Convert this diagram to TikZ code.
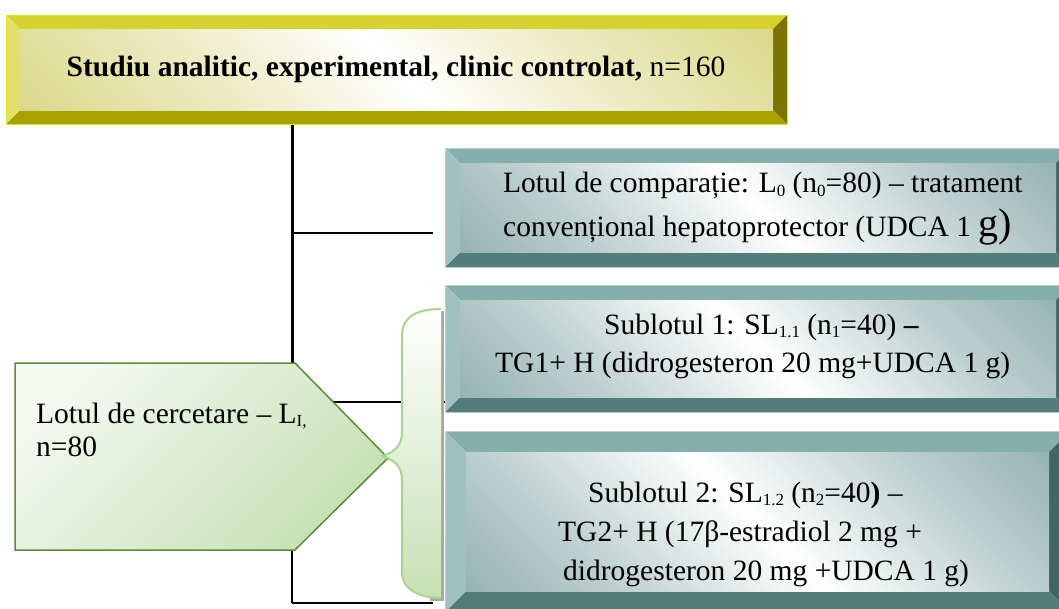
\documentclass[tikz,border=0pt]{standalone}
\usepackage{fontspec}
\setmainfont{Liberation Serif}
\usetikzlibrary{positioning}

\definecolor{yelTop}{HTML}{D6D232}
\definecolor{yelLeft}{HTML}{E2DF6B}
\definecolor{yelRight}{HTML}{7A7400}
\definecolor{yelBot}{HTML}{A8A200}
\definecolor{yelFace}{HTML}{CFCB62}
\definecolor{yelEdge}{HTML}{E4E21A}
\definecolor{tealTop}{HTML}{86AEAD}
\definecolor{tealLeft}{HTML}{A1C1C0}
\definecolor{tealRight}{HTML}{406664}
\definecolor{tealBot}{HTML}{537D7B}
\definecolor{tealFace}{HTML}{6F9896}
\definecolor{tealEdge}{HTML}{B4CFCE}
\definecolor{grnLine}{HTML}{5B8C3C}
\definecolor{grnLight}{HTML}{C6E0B4}
\definecolor{grnPale}{HTML}{F4F8F1}
\definecolor{braceLine}{HTML}{A9D48F}
\definecolor{braceShadow}{HTML}{A3AB9C}
\colorlet{faceC}{yelFace}

\pgfdeclareverticalshading[faceC]{bevelface}{100bp}{%
  color(0bp)=(faceC); color(30bp)=(faceC!45!white); color(50bp)=(white);
  color(70bp)=(faceC!45!white); color(100bp)=(faceC)}

\newcommand\sbs[1]{\raisebox{-0.12em}{\fontsize{17}{17}\selectfont #1}}

% x1, y1, x2, y2, bevel, colour prefix
\newcommand\bevelbox[6]{%
  \fill[#6Top] (#1,#2) -- (#3,#2) -- (#3-#5,#2+#5) -- (#1+#5,#2+#5) -- cycle;
  \fill[#6Bot] (#1,#4) -- (#3,#4) -- (#3-#5,#4-#5) -- (#1+#5,#4-#5) -- cycle;
  \fill[#6Left] (#1,#2) -- (#1+#5,#2+#5) -- (#1+#5,#4-#5) -- (#1,#4) -- cycle;
  \fill[#6Right] (#3,#2) -- (#3-#5,#2+#5) -- (#3-#5,#4-#5) -- (#3,#4) -- cycle;
  \colorlet{faceC}{#6Face}%
  \shade[shading=bevelface, shading angle=-45]
    (#1+#5,#2+#5) rectangle (#3-#5,#4-#5);
  \draw[#6Edge, line width=0.8pt] (#1,#2) rectangle (#3,#4);
}

\begin{document}
\begin{tikzpicture}[x=1pt, y=-1pt,
  conn/.style={draw=black, line width=2pt},
  trunk/.style={conn, line width=3pt},
  txt/.style={font=\fontsize{29.5}{38}\selectfont, inner sep=0pt, align=left}]
\useasboundingbox (0,0) rectangle (1059,608);
\clip (0,0) rectangle (1059,608);

\def\tx{292}

\coordinate (t0) at (\tx,124);
\coordinate (t3) at (\tx,603);
\coordinate (b1) at (433,233);
\coordinate (b2) at (445,402);
\coordinate (b3) at (433,603);

\draw[trunk] (t0) -- (t0 |- b2);
\draw[conn] (t0 |- b2) -- (t3);
\draw[conn] (t0 |- b1) -- (b1);
\draw[conn] (t0 |- b2) -- (b2);
\draw[conn] (t3) -- (b3);

\bevelbox{6}{15}{787}{124}{14}{yel}
\bevelbox{445}{148}{1071}{267}{15}{teal}
\bevelbox{445}{285}{1071}{412}{15}{teal}
\bevelbox{445}{431}{1070}{612}{21}{teal}

\shade[top color=grnPale, bottom color=grnLight, shading angle=45, draw=grnLine, line width=1.5pt]
  (15,363) -- (295,363) -- (388,458) -- (295,550) -- (15,550) -- cycle;

\fill[braceShadow] (444,311) -- (444,601) -- (430,601) -- (430,311) -- cycle;
\shade[top color=white, bottom color=grnLight]
  (441,309) .. controls (418,309) and (402,316) .. (402,336) -- (402,432)
  .. controls (402,446) and (394,452) .. (383,456)
  .. controls (394,460) and (402,466) .. (402,480) -- (402,572)
  .. controls (402,590) and (420,598) .. (441,598) -- cycle;
\draw[braceLine, line width=2pt]
  (441,309) .. controls (418,309) and (402,316) .. (402,336) -- (402,432)
  .. controls (402,446) and (394,452) .. (383,456)
  .. controls (394,460) and (402,466) .. (402,480) -- (402,572)
  .. controls (402,590) and (420,598) .. (441,598);

\node[txt, anchor=base] (studiu) at (396,76)
  {\textbf{Studiu analitic, experimental, clinic controlat,} n=160};
\node[txt, anchor=west] (comparatie) at (503,209)
  {Lotul de comparație: L\sbs{0} (n\sbs{0}=80) – tratament\\[6pt]
   convențional hepatoprotector (UDCA 1 {\fontsize{40}{40}\selectfont g)}};
\node[txt, anchor=west] (sublot1) at (495,346)
  {\hspace*{109pt}Sublotul 1: SL\sbs{1.1} (n\sbs{1}=40) \textbf{–}\\
   TG1+ H (didrogesteron 20 mg+UDCA 1 g)};
\node[txt, anchor=west, font=\fontsize{29.5}{39}\selectfont] (sublot2) at (558,534)
  {\hspace*{30pt}Sublotul 2: SL\sbs{1.2} (n\sbs{2}=40\textbf{)} –\\
   TG2+ H (17β-estradiol 2 mg +\\
   \hspace*{5pt}didrogesteron 20 mg +UDCA 1 g)};
\node[txt, anchor=base west] (cercetare) at (36,423)
  {Lotul de cercetare – L\sbs{I,}};
\node[txt, anchor=base west] (cercetareN) at (36,456) {n=80};
\end{tikzpicture}
\end{document}
